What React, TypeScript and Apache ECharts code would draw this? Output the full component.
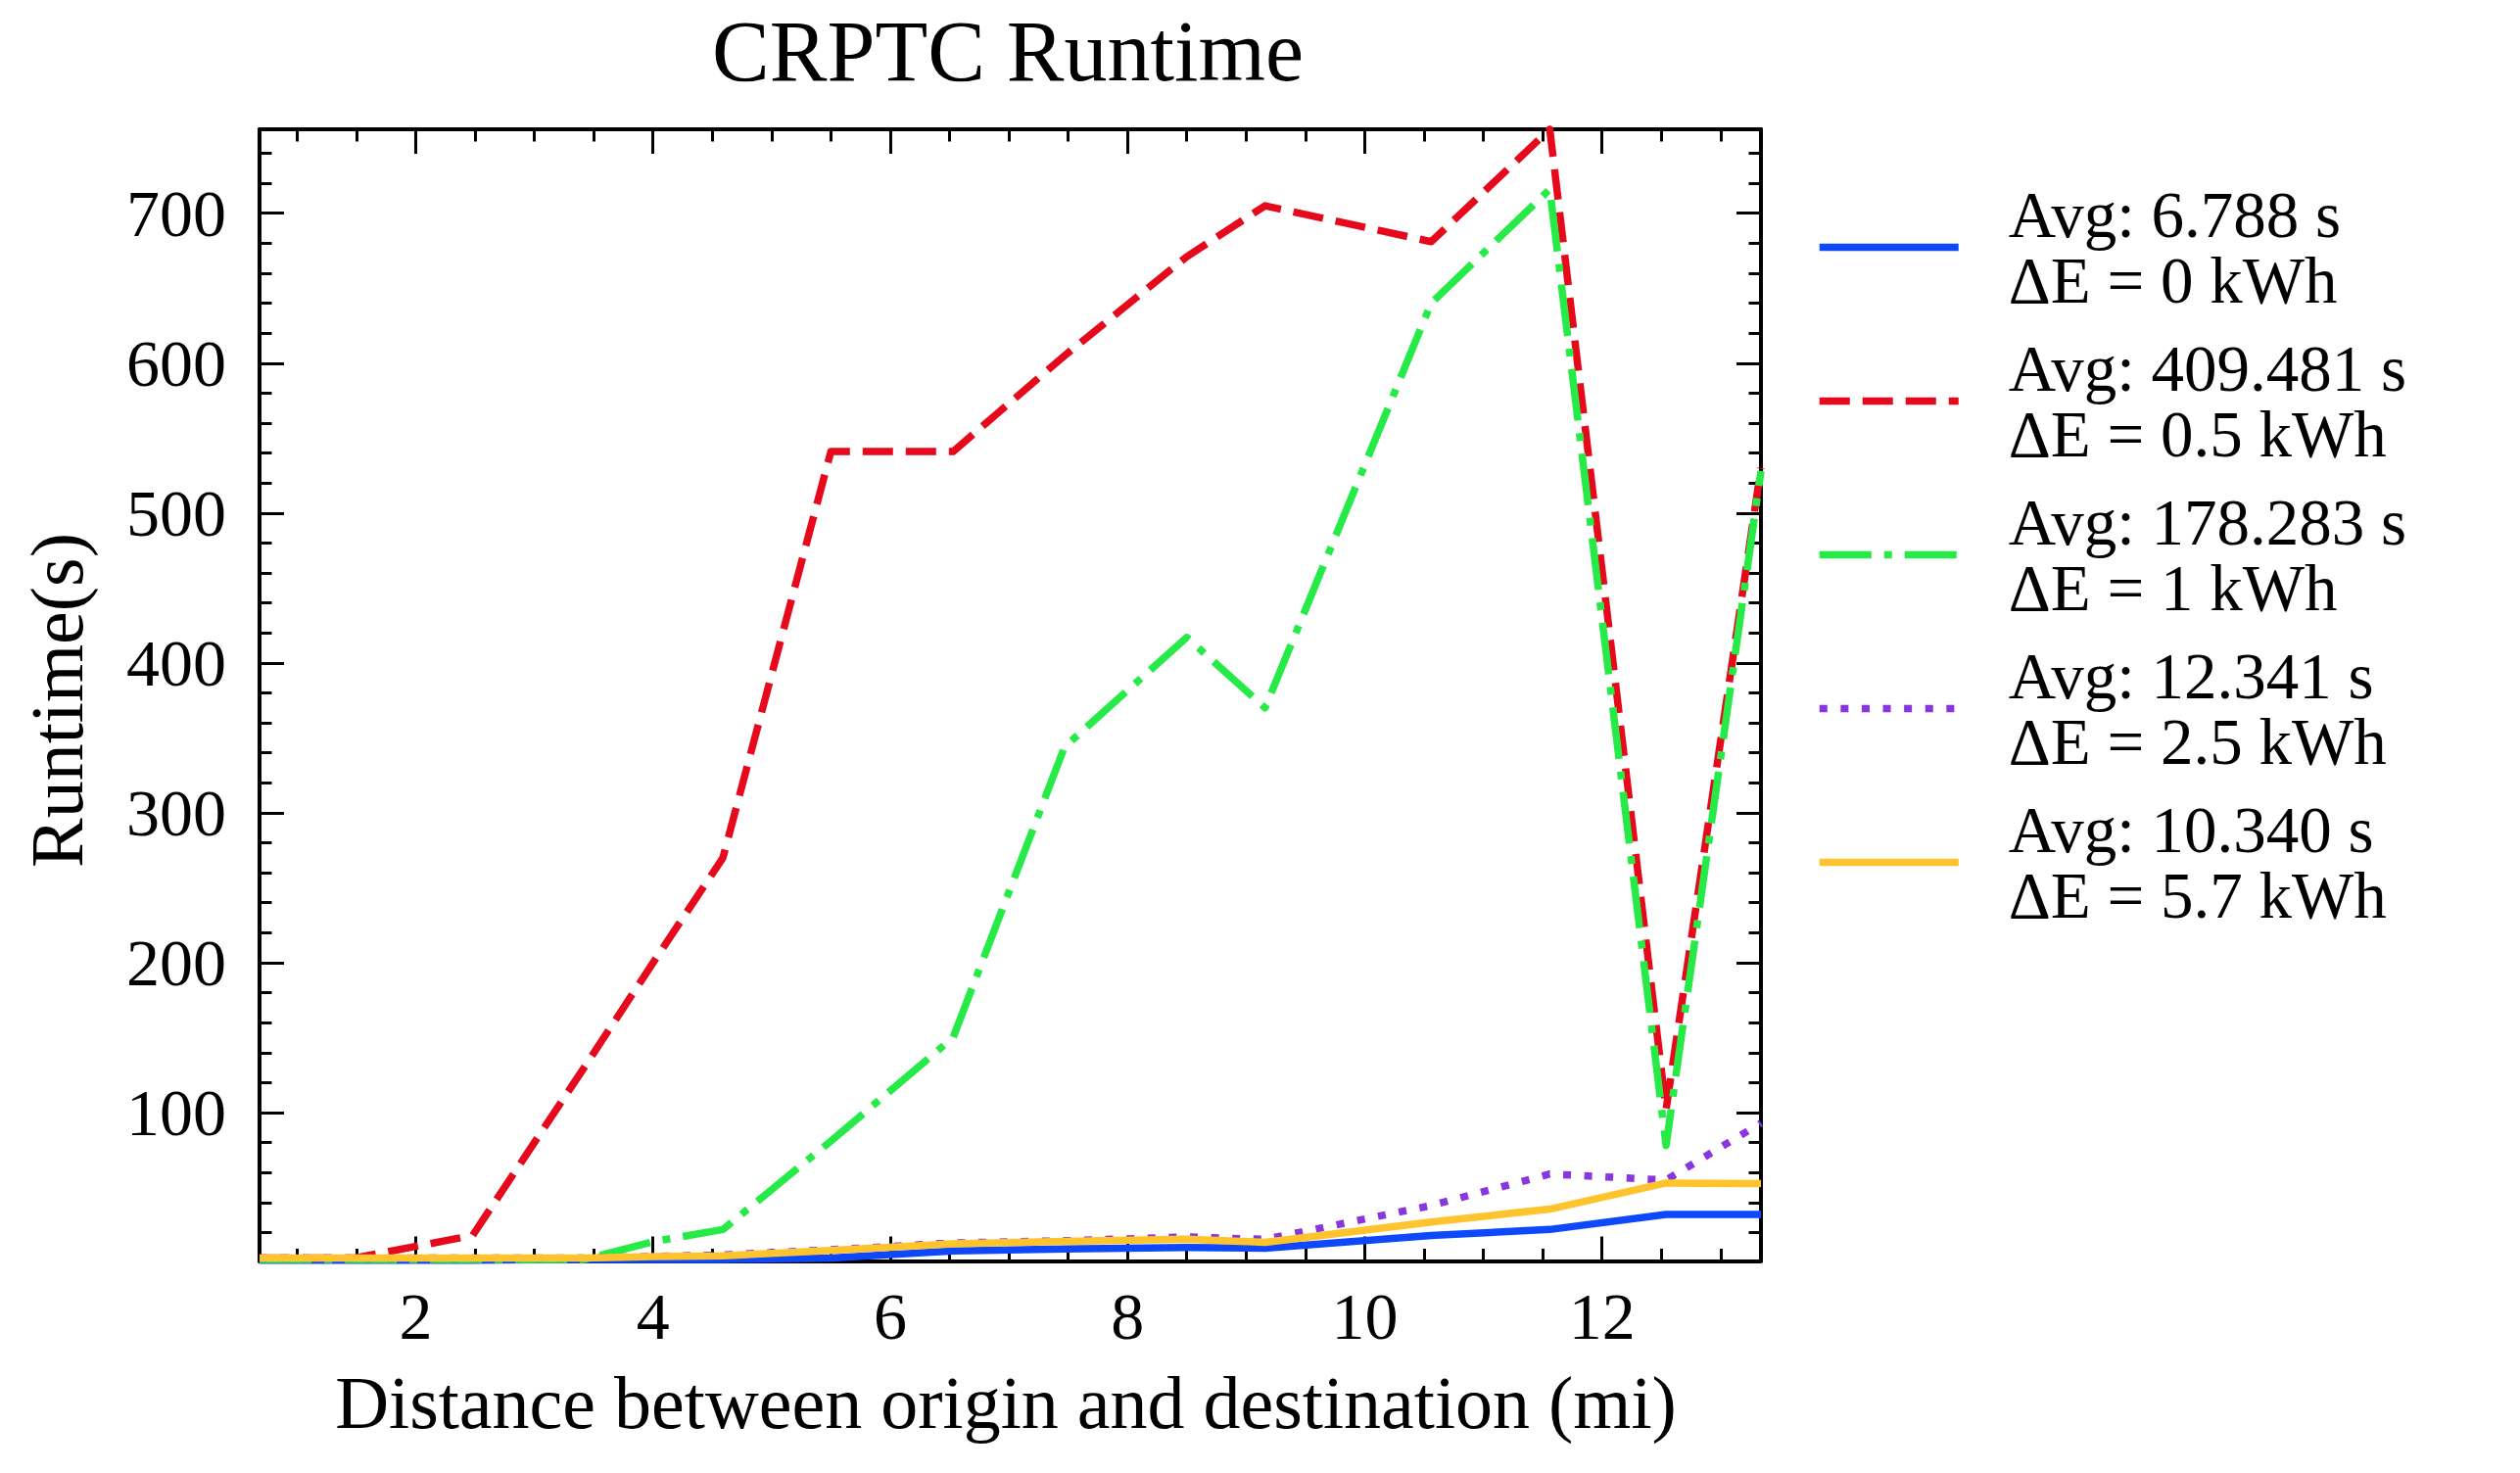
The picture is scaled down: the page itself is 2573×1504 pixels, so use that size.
import React, { useEffect, useRef } from "react";
import * as echarts from "echarts";

// ---- data ----
const distances = [0.684, 1.49, 2.48, 3.42, 4.01, 4.59, 5.5, 6.53, 7.47, 8.5, 9.16, 10.56, 11.56, 12.54, 13.34];
const runtimeE0 = [1.5, 1.5, 1.5, 2, 2, 2, 3, 7.7, 9, 10, 9.5, 18, 22, 32, 32];
const runtimeE05 = [3, 3, 18, 130, 201, 270, 541, 541, 605, 671, 705, 681, 756, 102, 530];
const runtimeE1 = [2, 2, 2, 2, 14, 22, 81, 150, 344, 417, 370, 640, 716, 78, 528];
const runtimeE25 = [3, 3, 3, 3, 4, 5, 8.5, 13, 14.5, 17, 15.4, 38, 59, 55, 93];
const runtimeE57 = [3, 3, 3, 3, 4, 4.5, 8, 12.5, 14, 15.6, 13.4, 27, 35.6, 53, 52.6];

const seriesNames = [
  "Avg: 6.788 s\nΔE = 0 kWh",
  "Avg: 409.481 s\nΔE = 0.5 kWh",
  "Avg: 178.283 s\nΔE = 1 kWh",
  "Avg: 12.341 s\nΔE = 2.5 kWh",
  "Avg: 10.340 s\nΔE = 5.7 kWh",
];
const seriesValues = [runtimeE0, runtimeE05, runtimeE1, runtimeE25, runtimeE57];
const seriesColors = ["#0d49fb", "#e6091c", "#26eb47", "#8936df", "#fec32d"];
const seriesDash: any[] = ["solid", [31, 13], [53, 13, 8, 13], [8, 13.6], "solid"];

const xMin = 0.684;
const xMax = 13.34;
const yMin = 1;
const yMax = 756;
const xMajorTicks = [2, 4, 6, 8, 10, 12];
const xMinorTicks = [1, 1.5, 2.5, 3, 3.5, 4.5, 5, 5.5, 6.5, 7, 7.5, 8.5, 9, 9.5, 10.5, 11, 11.5, 12.5, 13];
const yMajorTicks = [100, 200, 300, 400, 500, 600, 700];
const yMinorTicks = [
  20, 40, 60, 80, 120, 140, 160, 180, 220, 240, 260, 280, 320, 340, 360, 380,
  420, 440, 460, 480, 520, 540, 560, 580, 620, 640, 660, 680, 720, 740,
];

const titleText = "CRPTC Runtime";
const xLabelText = "Distance between origin and destination (mi)";
const yLabelText = "Runtime(s)";

const FONT = '"Liberation Serif", "DejaVu Serif", serif';
const LINE_W = 7.5;

function makeAxis(kind: "x" | "y", position: string, major: boolean, labels: boolean) {
  const isX = kind === "x";
  const ticks = isX ? (major ? xMajorTicks : xMinorTicks) : major ? yMajorTicks : yMinorTicks;
  return {
    type: "value",
    gridIndex: 0,
    position,
    min: isX ? xMin : yMin,
    max: isX ? xMax : yMax,
    splitLine: { show: false },
    axisLine: {
      show: major,
      onZero: false,
      lineStyle: { color: "#000", width: 4 },
    },
    axisTick: {
      show: true,
      inside: true,
      length: major ? 25 : 12.5,
      lineStyle: { color: "#000", width: 3 },
      customValues: ticks,
    },
    axisLabel: {
      show: labels,
      customValues: ticks,
      margin: isX ? 22 : 34,
      color: "#000",
      fontFamily: FONT,
      fontSize: 68,
    },
  };
}

export default function App() {
  const ref = useRef<HTMLDivElement>(null);
  useEffect(() => {
    if (!ref.current) return;
    const chart = echarts.init(ref.current, undefined, { renderer: "svg" });
    const option: any = {
      animation: false,
      backgroundColor: "#fff",
      textStyle: { fontFamily: FONT },
      grid: { left: 265, top: 132, right: 775, bottom: 216.5, containLabel: false },
      xAxis: [
        makeAxis("x", "bottom", true, true),
        makeAxis("x", "bottom", false, false),
        makeAxis("x", "top", true, false),
        makeAxis("x", "top", false, false),
      ],
      yAxis: [
        makeAxis("y", "left", true, true),
        makeAxis("y", "left", false, false),
        makeAxis("y", "right", true, false),
        makeAxis("y", "right", false, false),
      ],
      legend: {
        show: true,
        orient: "vertical",
        left: 1854,
        top: 185,
        padding: 0,
        itemWidth: 142,
        itemHeight: 14,
        itemGap: 22,
        selectedMode: false,
        data: seriesNames,
        itemStyle: { opacity: 0, borderWidth: 0 },
        lineStyle: { width: LINE_W, cap: "butt" },
        textStyle: {
          fontFamily: FONT,
          fontSize: 67,
          lineHeight: 67.5,
          color: "#000",
          padding: [0, 0, 0, 46],
        },
      },
      series: seriesNames.map((name, i) => ({
        type: "line",
        name,
        xAxisIndex: 0,
        yAxisIndex: 0,
        data: distances.map((d, j) => [d, seriesValues[i][j]]),
        symbol: "none",
        showSymbol: false,
        clip: true,
        itemStyle: { color: seriesColors[i] },
        lineStyle: {
          color: seriesColors[i],
          width: LINE_W,
          type: seriesDash[i],
          cap: "butt",
          join: "round",
        },
        emphasis: { disabled: true },
      })),
      graphic: [
        {
          type: "text",
          x: 1029,
          y: 52,
          style: {
            text: titleText,
            fontFamily: FONT,
            fontSize: 88,
            fill: "#000",
            textAlign: "center",
            textVerticalAlign: "middle",
          },
        },
        {
          type: "text",
          x: 1027,
          y: 1432,
          style: {
            text: xLabelText,
            fontFamily: FONT,
            fontSize: 76,
            fill: "#000",
            textAlign: "center",
            textVerticalAlign: "middle",
          },
        },
        {
          type: "text",
          x: 58,
          y: 715,
          rotation: Math.PI / 2,
          style: {
            text: yLabelText,
            fontFamily: FONT,
            fontSize: 76,
            fill: "#000",
            textAlign: "center",
            textVerticalAlign: "middle",
          },
        },
      ],
    };
    chart.setOption(option);
    return () => chart.dispose();
  }, []);
  return (
    <div
      ref={ref}
      style={{ position: "fixed", left: 0, top: 0, width: 2573, height: 1504, background: "#fff" }}
    />
  );
}
